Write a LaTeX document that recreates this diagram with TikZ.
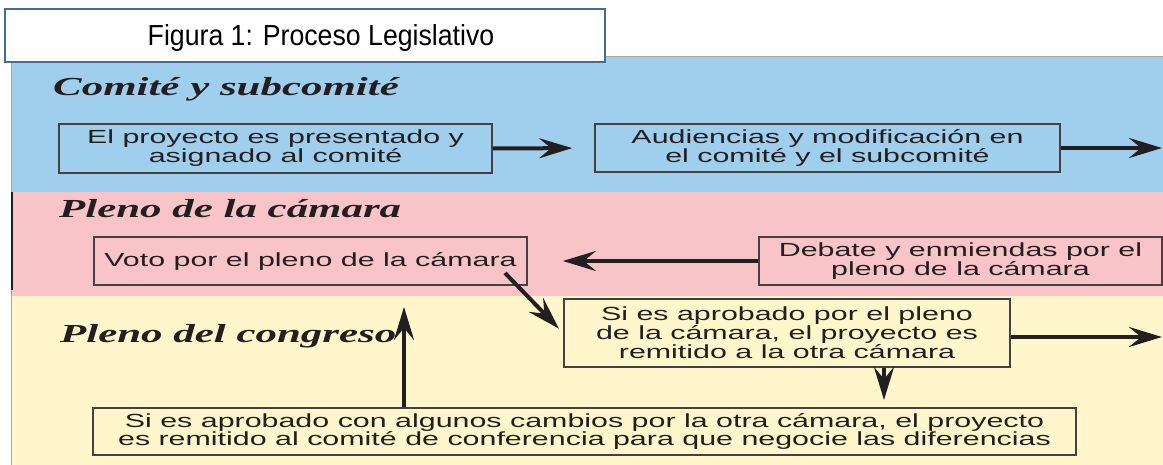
\documentclass[tikz,border=0pt]{standalone}
\usepackage{fontspec}
\usetikzlibrary{arrows.meta}
\setmainfont{Liberation Sans}
\newfontfamily\titlefont[FakeStretch=0.92]{Liberation Sans}
\newfontfamily\boxfont[FakeStretch=1.6]{Liberation Sans}
\newfontfamily\headfont[FakeStretch=1.65]{Liberation Serif}
\definecolor{bandblue}{RGB}{160,207,238}
\definecolor{bandpink}{RGB}{248,196,199}
\definecolor{bandyellow}{RGB}{255,247,203}
\definecolor{titleline}{RGB}{70,108,150}
\definecolor{ink}{RGB}{35,31,32}

\begin{document}
\begin{tikzpicture}[x=1pt,y=-1pt,
  stage/.style={draw=ink!85,line width=1.7pt,inner sep=0pt,align=center,text=ink,
    font=\boxfont\fontsize{19}{17.5}\selectfont},
  chamber/.style={anchor=base west,inner sep=0pt,text=ink,
    font=\headfont\bfseries\itshape\fontsize{26}{26}\selectfont},
  flow/.style={-{Stealth[length=33pt,width=20pt,inset=12pt]},line width=4pt,draw=ink}
]
  \useasboundingbox (0,0) rectangle (1163,465);
  \fill[bandblue] (12,57) rectangle (1163,192);
  \fill[bandpink] (12,192) rectangle (1163,296);
  \fill[bandyellow] (12,296) rectangle (1163,465);
  \draw[gray!70,line width=1pt] (1163,57) -- (11.5,57) -- (11.5,465);
  \draw[ink,line width=2pt] (12,192) -- (12,290);
  \draw[fill=white,draw=titleline,line width=2pt] (5,9) rectangle (605,62);
  \draw (321,46) node[anchor=base,font=\titlefont\fontsize{29}{29}\selectfont] (title) {Figura 1: Proceso Legislativo};

  \draw (53,96) node[chamber] (committee) {Comité y subcomité}
        (59,218) node[chamber] (house) {Pleno de la cámara}
        (60,342) node[chamber] (congress) {Pleno del congreso};

  \draw (275.5,148.5) node[stage,minimum width=433pt,minimum height=49pt] (present) {El proyecto es presentado y\\asignado al comité}
        (827.5,148) node[stage,minimum width=465pt,minimum height=48pt] (hearing) {Audiencias y modificación en\\el comité y el subcomité}
        (310.5,261) node[stage,minimum width=433pt,minimum height=48pt] (vote) {Voto por el pleno de la cámara}
        (960.5,261) node[stage,minimum width=403pt,minimum height=48pt] (debate) {Debate y enmiendas por el\\pleno de la cámara}
        (787,333) node[stage,minimum width=446pt,minimum height=68pt] (remit) {Si es aprobado por el pleno\\de la cámara, el proyecto es\\remitido a la otra cámara}
        (584.5,431.5) node[stage,minimum width=983pt,minimum height=47pt] (confer) {Si es aprobado con algunos cambios por la otra cámara, el proyecto\\es remitido al comité de conferencia para que negocie las diferencias};

  \coordinate (outa) at (1162,148);
  \coordinate (outb) at (1162,337);
  \coordinate (voteout) at (505,273);
  \coordinate (down) at (884,400);
  \coordinate (up) at (404,307);

  \draw[flow,shorten >=22pt] (present.east) -- (hearing.west);
  \draw[flow] (hearing.east) -- (outa);
  \draw[flow,shorten >=35pt] (debate.west) -- (vote.east);
  \draw[flow,shorten >=6pt] (voteout) -- (remit.west);
  \draw[flow] (remit.east |- outb) -- (outb);
  \draw[flow] (remit.south -| down) -- (down);
  \draw[flow] (confer.north -| up) -- (up);
\end{tikzpicture}
\end{document}
